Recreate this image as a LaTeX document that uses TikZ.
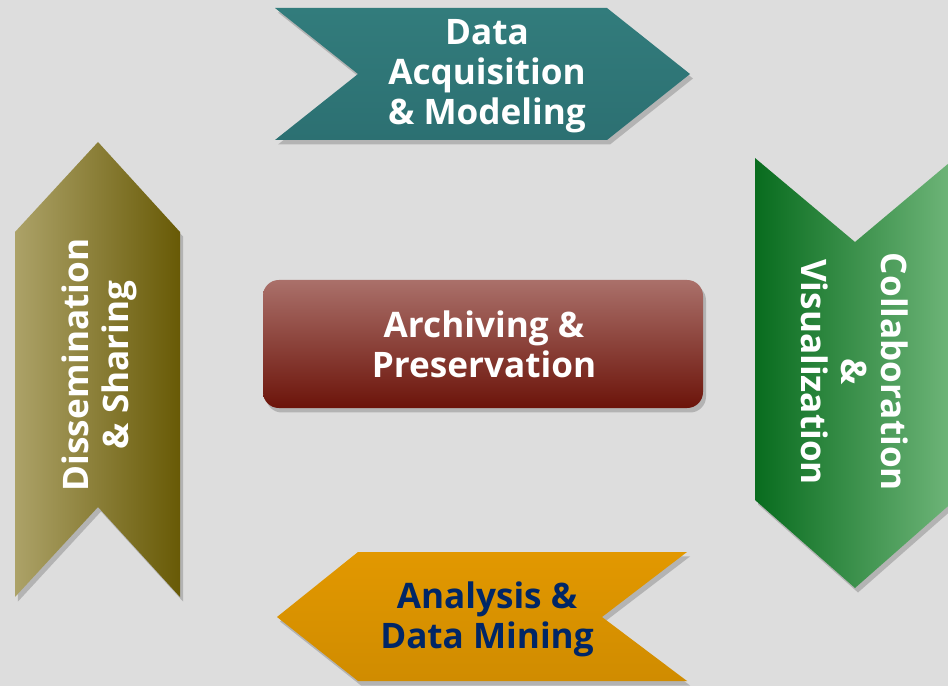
\documentclass[tikz,border=0pt]{standalone}
\usepackage{fontspec}
\setmainfont{Open Sans}
\usetikzlibrary{shadows}
\definecolor{bgGray}{RGB}{221,221,221}
\definecolor{tealTop}{RGB}{50,124,124}
\definecolor{tealBot}{RGB}{44,112,114}
\definecolor{oliveL}{RGB}{172,162,104}
\definecolor{oliveR}{RGB}{104,90,6}
\definecolor{greenL}{RGB}{8,108,30}
\definecolor{greenR}{RGB}{112,182,122}
\definecolor{orangeA}{RGB}{226,152,0}
\definecolor{redTop}{RGB}{170,112,106}
\definecolor{redBot}{RGB}{108,20,10}
\definecolor{navyText}{RGB}{0,38,102}
\begin{document}
\begin{tikzpicture}[x=0.02cm, y=-0.02cm,
  chevron/.style={drop shadow={opacity=0.45, shadow xshift=0.6mm, shadow yshift=-0.9mm}},
  boxtext/.style={font=\bfseries\fontsize{20}{22.8}\selectfont, align=center, text=white}]
  %% 1. Background
  \fill[bgGray] (0,0) rectangle (948,686);
  \useasboundingbox (0,0) rectangle (948,686);
  %% 2. Chevrons
  \shade[chevron, top color=tealTop, bottom color=tealBot]
    (275,8) -- (607,8) -- (690,74) -- (607,140) -- (275,140) -- (358,74) -- cycle;
  \shade[chevron, left color=greenL, right color=greenR]
    (755,158) -- (855,242) -- (955,158) -- (955,500) -- (855,588) -- (755,500) -- cycle;
  \shade[chevron, top color=orangeA, bottom color=orangeA!92!black]
    (358,552) -- (687,552) -- (602,617) -- (687,681) -- (358,681) -- (277,617) -- cycle;
  \shade[chevron, left color=oliveL, right color=oliveR]
    (98,142) -- (180,232) -- (180,597) -- (98,507) -- (15,597) -- (15,232) -- cycle;
  %% 3. Centre box
  \shade[chevron, top color=redTop, bottom color=redBot, rounded corners=9pt]
    (263,280) rectangle (703,408);
  %% 4. Labels
  \node[boxtext] (acq) at (487,76) {Data\\Acquisition\\\& Modeling};
  \node[boxtext, rotate=-90] (collab) at (855,372) {Collaboration\\\&\\Visualization};
  \node[boxtext, text=navyText] (ana) at (487,619) {Analysis \&\\Data Mining};
  \node[boxtext, rotate=90] (diss) at (99,365) {Dissemination\\\& Sharing};
  \node[boxtext] (arch) at (484,344) {Archiving \&\\Preservation};
\end{tikzpicture}
\end{document}
